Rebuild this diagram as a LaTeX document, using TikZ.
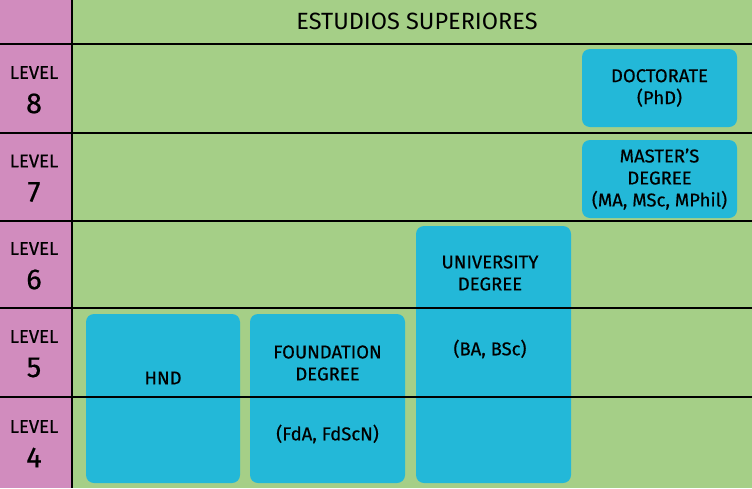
\documentclass[tikz,border=0pt]{standalone}
\usepackage{fontspec}
\setmainfont{Fira Sans}[BoldFont={Fira Sans}, BoldFeatures={FakeBold=0.45}]
\definecolor{edgreen}{RGB}{165,207,135}
\definecolor{edpink}{RGB}{209,140,190}
\definecolor{edblue}{RGB}{35,184,216}
\usetikzlibrary{positioning,calc}
\tikzset{
  degbox/.style={fill=edblue, rounded corners=8pt, inner sep=0pt},
  degtxt/.style={font=\fontsize{18.5}{22}\bfseries, align=center, inner sep=0pt},
  lvltxt/.style={font=\fontsize{18.5}{22}\bfseries, inner sep=0pt},
  lvlnum/.style={font=\fontsize{29}{30}\bfseries, inner sep=0pt},
  gridline/.style={black, line width=1.1pt}
}

\begin{document}
\begin{tikzpicture}[x=1pt, y=-1pt]
  \useasboundingbox (0,0) rectangle (752,488);
  \fill[edgreen] (0,0) rectangle (752,488);
  \fill[edpink] (0,0) rectangle (72,488);

  % qualification boxes
  \node[degbox, minimum width=154pt, minimum height=169pt] (hnd) at (163,398.5) {};
  \node[degbox, minimum width=155pt, minimum height=169pt] (fdeg) at (327.5,398.5) {};
  \node[degbox, minimum width=155pt, minimum height=257pt] (udeg) at (493.5,354.5) {};
  \node[degbox, minimum width=155pt, minimum height=78pt] (phd) at (659.5,88) {};
  \node[degbox, minimum width=155pt, minimum height=78pt] (mdeg) at (659.5,179) {};

  % grid
  \foreach \yy in {44,133,221,308,397}
    \draw[gridline] (0,\yy) -- (752,\yy);
  \draw[gridline] (72,0) -- (72,488);

  % header
  \node[font=\fontsize{23.5}{24}\selectfont] (head) at (417,21) {ESTUDIOS SUPERIORES};

  % levels
  \foreach \lv/\cy in {8/88.5,7/177,6/264.5,5/352.5,4/442.5} {
    \node[lvltxt] (lvl\lv) at (34,\cy-16) {LEVEL};
    \node[lvlnum] (num\lv) at (34,\cy+15) {\lv};
  }

  % labels
  \node[degtxt] (hndt) at (163,378) {HND};
  \node[degtxt] (fdegt) at (327.5,363) {FOUNDATION\\DEGREE};
  \node[degtxt] (fdegs) at (327.5,434) {(FdA, FdScN)};
  \node[degtxt] (udegt) at (490,273) {UNIVERSITY\\DEGREE};
  \node[degtxt] (udegs) at (490,349) {(BA, BSc)};
  \node[degtxt] (phdt) at (phd.center) {DOCTORATE\\(PhD)};
  \node[degtxt] (mdegt) at (mdeg.center) {MASTER’S\\DEGREE\\(MA, MSc, MPhil)};
\end{tikzpicture}
\end{document}
